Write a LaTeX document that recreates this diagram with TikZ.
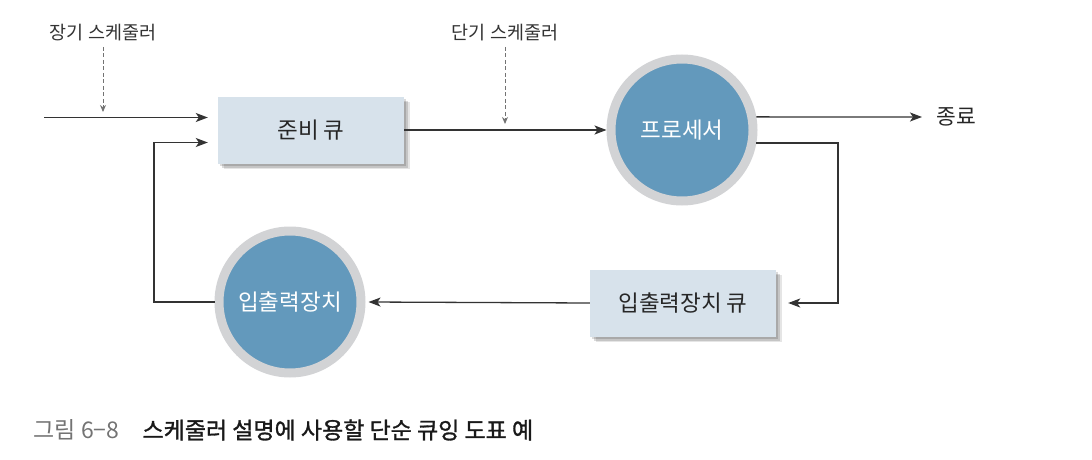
\documentclass[tikz,border=0pt]{standalone}
\usepackage{fontspec}
\setmainfont{Noto Sans CJK KR}
\newfontfamily\capfont[FakeBold=1.3]{Noto Sans CJK KR}
\usetikzlibrary{arrows.meta,shadows,calc}
\definecolor{boxfill}{HTML}{D7E2EB}
\definecolor{circfill}{HTML}{6399BC}
\definecolor{ringc}{HTML}{D2D3D5}
\definecolor{linec}{HTML}{333333}
\begin{document}
\begin{tikzpicture}[x=1pt,y=-1pt,
  qbox/.style={rectangle, fill=boxfill, minimum width=186pt, minimum height=67pt, inner sep=0pt,
    font=\fontsize{22.5}{26}\selectfont, text=black!85,
    general shadow={shadow xshift=2pt,shadow yshift=-2pt,fill=black,opacity=.14},
    general shadow={shadow xshift=4pt,shadow yshift=-4pt,fill=black,opacity=.14},
    general shadow={shadow xshift=6pt,shadow yshift=-5pt,fill=black,opacity=.10}},
  proc/.style={circle, fill=circfill, draw=ringc, line width=9pt, minimum size=142pt, inner sep=0pt,
    text=white, font=\fontsize{22.5}{26}\selectfont},
  arr/.style={draw=linec, line width=1.3pt, -{Stealth[length=12pt,width=9pt,inset=3pt]}},
  dasharr/.style={draw=black!55, line width=1pt, dash pattern=on 4pt off 2.5pt, -{Stealth[length=7pt,width=6pt]}},
  lbl/.style={font=\fontsize{18.5}{22}\selectfont, text=black!80},
]
\useasboundingbox (0,0) rectangle (1092,460);

\node[qbox] (ready) at (311,130) {준비 큐};
\node[qbox] (ioq) at (683,303) {입출력장치 큐};
\node[proc] (cpu) at (682,130) {프로세서};
\node[proc] (io) at (290,302) {입출력장치};
\node[lbl] (lts) at (103,33) {장기 스케줄러};
\node[lbl] (sts) at (505,33) {단기 스케줄러};
\node[font=\fontsize{21.5}{25}\selectfont, text=black!85, anchor=west] (done) at (933,117) {종료};

\coordinate (in) at (44,117.5);
\coordinate (fbx) at (154,0);
\coordinate (loopx) at (838,0);
\coordinate (rin1) at ($(ready.west)+(-10,-12.5)$);
\coordinate (rin2) at ($(ready.west)+(-10,12.5)$);
\coordinate (ltsend) at (103,112);
\coordinate (stsend) at (505,124);

\draw[arr] (in) -- (rin1);
\draw[dasharr] ($(lts.south)+(0,2)$) -- (ltsend);
\draw[arr] (io.west) -- (io.west -| fbx) |- (rin2);
\draw[arr] (ready.east) -- (cpu.west);
\draw[dasharr] ($(sts.south)+(0,2)$) -- (stsend);
\draw[arr] (cpu.10) -- ($(done.west)+(-11,0)$);
\draw[arr] (cpu.-10) -- (cpu.-10 -| loopx) |- ($(ioq.east)+(12,0)$);
\draw[arr] (ioq.west) -- ($(io.east)+(3,0)$);

\node[anchor=west, font=\fontsize{23}{27}\selectfont, text=black!55] (fig) at (30,430) {그림 6−8};
\node[anchor=west, font=\fontsize{23}{27}\capfont, text=black!90] (cap) at (139,430) {스케줄러 설명에 사용할 단순 큐잉 도표 예};
\end{tikzpicture}
\end{document}
